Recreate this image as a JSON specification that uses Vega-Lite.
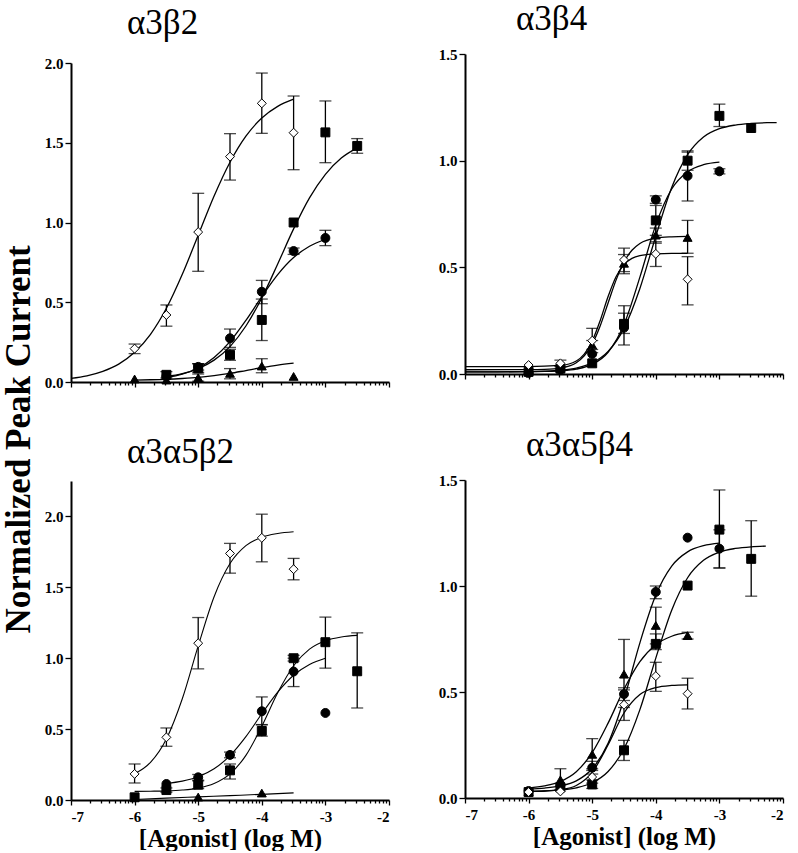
{
  "$schema": "https://vega.github.io/schema/vega-lite/v6.json",
  "padding": {"left": 2, "top": 2, "right": 2, "bottom": 0},
  "background": "white",
  "title": {"text": "Normalized Peak Current", "orient": "left", "anchor": "middle", "fontSize": 35, "fontWeight": "bold", "offset": -21, "dx": -13, "baseline": "alphabetic", "frame": "bounds"},
  "datasets": {
    "pts": [
      {"p": "a3b2", "s": "D", "x": -6, "y": 0.209, "lo": 0.178, "hi": 0.238},
      {"p": "a3b2", "s": "D", "x": -5.5, "y": 0.42, "lo": 0.35, "hi": 0.483},
      {"p": "a3b2", "s": "D", "x": -5, "y": 0.94, "lo": 0.694, "hi": 1.183},
      {"p": "a3b2", "s": "D", "x": -4.5, "y": 1.413, "lo": 1.266, "hi": 1.557},
      {"p": "a3b2", "s": "D", "x": -4, "y": 1.747, "lo": 1.559, "hi": 1.937},
      {"p": "a3b2", "s": "D", "x": -3.5, "y": 1.563, "lo": 1.331, "hi": 1.793},
      {"p": "a3b2", "s": "S", "x": -5.5, "y": 0.045, "lo": 0.025, "hi": 0.065},
      {"p": "a3b2", "s": "S", "x": -5, "y": 0.085, "lo": 0.06, "hi": 0.115},
      {"p": "a3b2", "s": "S", "x": -4.5, "y": 0.17, "lo": 0.136, "hi": 0.205},
      {"p": "a3b2", "s": "S", "x": -4, "y": 0.389, "lo": 0.26, "hi": 0.52},
      {"p": "a3b2", "s": "S", "x": -3.5, "y": 1.0, "lo": null, "hi": null},
      {"p": "a3b2", "s": "S", "x": -3, "y": 1.565, "lo": 1.375, "hi": 1.762},
      {"p": "a3b2", "s": "S", "x": -2.5, "y": 1.48, "lo": 1.434, "hi": 1.526},
      {"p": "a3b2", "s": "C", "x": -5.5, "y": 0.035, "lo": null, "hi": null},
      {"p": "a3b2", "s": "C", "x": -5, "y": 0.095, "lo": 0.075, "hi": 0.115},
      {"p": "a3b2", "s": "C", "x": -4.5, "y": 0.274, "lo": 0.217, "hi": 0.332},
      {"p": "a3b2", "s": "C", "x": -4, "y": 0.566, "lo": 0.491, "hi": 0.637},
      {"p": "a3b2", "s": "C", "x": -3.5, "y": 0.821, "lo": 0.8, "hi": 0.84},
      {"p": "a3b2", "s": "C", "x": -3, "y": 0.903, "lo": 0.855, "hi": 0.951},
      {"p": "a3b2", "s": "T", "x": -6, "y": 0.019, "lo": null, "hi": null},
      {"p": "a3b2", "s": "T", "x": -5.5, "y": 0.012, "lo": null, "hi": null},
      {"p": "a3b2", "s": "T", "x": -5, "y": 0.027, "lo": 0.005, "hi": 0.05},
      {"p": "a3b2", "s": "T", "x": -4.5, "y": 0.054, "lo": 0.02, "hi": 0.084},
      {"p": "a3b2", "s": "T", "x": -4, "y": 0.1, "lo": 0.058, "hi": 0.146},
      {"p": "a3b2", "s": "T", "x": -3.5, "y": 0.035, "lo": null, "hi": null},

      {"p": "a3b4", "s": "S", "x": -6, "y": 0.01, "lo": null, "hi": null},
      {"p": "a3b4", "s": "S", "x": -5.5, "y": 0.025, "lo": null, "hi": null},
      {"p": "a3b4", "s": "S", "x": -5, "y": 0.05, "lo": null, "hi": null},
      {"p": "a3b4", "s": "S", "x": -4.5, "y": 0.235, "lo": 0.136, "hi": 0.32},
      {"p": "a3b4", "s": "S", "x": -4, "y": 0.72, "lo": 0.65, "hi": 0.79},
      {"p": "a3b4", "s": "S", "x": -3.5, "y": 1.0, "lo": 0.955, "hi": 1.046},
      {"p": "a3b4", "s": "S", "x": -3, "y": 1.21, "lo": 1.16, "hi": 1.265},
      {"p": "a3b4", "s": "S", "x": -2.5, "y": 1.153, "lo": null, "hi": null},
      {"p": "a3b4", "s": "C", "x": -6, "y": 0.005, "lo": null, "hi": null},
      {"p": "a3b4", "s": "C", "x": -5.5, "y": 0.02, "lo": null, "hi": null},
      {"p": "a3b4", "s": "C", "x": -5, "y": 0.094, "lo": null, "hi": null},
      {"p": "a3b4", "s": "C", "x": -4.5, "y": 0.217, "lo": 0.19, "hi": 0.285},
      {"p": "a3b4", "s": "C", "x": -4, "y": 0.817, "lo": 0.8, "hi": 0.835},
      {"p": "a3b4", "s": "C", "x": -3.5, "y": 0.929, "lo": 0.811, "hi": 1.04},
      {"p": "a3b4", "s": "C", "x": -3, "y": 0.95, "lo": 0.938, "hi": 0.962},
      {"p": "a3b4", "s": "T", "x": -6, "y": 0.02, "lo": null, "hi": null},
      {"p": "a3b4", "s": "T", "x": -5.5, "y": 0.03, "lo": null, "hi": null},
      {"p": "a3b4", "s": "T", "x": -5, "y": 0.136, "lo": 0.115, "hi": 0.157},
      {"p": "a3b4", "s": "T", "x": -4.5, "y": 0.519, "lo": 0.47, "hi": 0.56},
      {"p": "a3b4", "s": "T", "x": -4, "y": 0.651, "lo": 0.613, "hi": 0.684},
      {"p": "a3b4", "s": "T", "x": -3.5, "y": 0.64, "lo": 0.566, "hi": 0.72},
      {"p": "a3b4", "s": "D", "x": -6, "y": 0.042, "lo": null, "hi": null},
      {"p": "a3b4", "s": "D", "x": -5.5, "y": 0.05, "lo": 0.035, "hi": 0.065},
      {"p": "a3b4", "s": "D", "x": -5, "y": 0.156, "lo": 0.1, "hi": 0.214},
      {"p": "a3b4", "s": "D", "x": -4.5, "y": 0.535, "lo": 0.48, "hi": 0.59},
      {"p": "a3b4", "s": "D", "x": -4, "y": 0.563, "lo": 0.504, "hi": 0.62},
      {"p": "a3b4", "s": "D", "x": -3.5, "y": 0.444, "lo": 0.324, "hi": 0.55},

      {"p": "a3a5b2", "s": "D", "x": -6, "y": 0.184, "lo": 0.12, "hi": 0.254},
      {"p": "a3a5b2", "s": "D", "x": -5.5, "y": 0.442, "lo": 0.379, "hi": 0.508},
      {"p": "a3a5b2", "s": "D", "x": -5, "y": 1.106, "lo": 0.925, "hi": 1.287},
      {"p": "a3a5b2", "s": "D", "x": -4.5, "y": 1.739, "lo": 1.6, "hi": 1.81},
      {"p": "a3a5b2", "s": "D", "x": -4, "y": 1.849, "lo": 1.68, "hi": 2.016},
      {"p": "a3a5b2", "s": "D", "x": -3.5, "y": 1.628, "lo": 1.553, "hi": 1.704},
      {"p": "a3a5b2", "s": "S", "x": -6, "y": 0.019, "lo": null, "hi": null},
      {"p": "a3a5b2", "s": "S", "x": -5.5, "y": 0.07, "lo": 0.055, "hi": 0.085},
      {"p": "a3a5b2", "s": "S", "x": -5, "y": 0.108, "lo": 0.08, "hi": 0.135},
      {"p": "a3a5b2", "s": "S", "x": -4.5, "y": 0.209, "lo": 0.148, "hi": 0.254},
      {"p": "a3a5b2", "s": "S", "x": -4, "y": 0.487, "lo": 0.45, "hi": 0.53},
      {"p": "a3a5b2", "s": "S", "x": -3.5, "y": 1.0, "lo": 0.98, "hi": 1.02},
      {"p": "a3a5b2", "s": "S", "x": -3, "y": 1.113, "lo": 0.93, "hi": 1.29},
      {"p": "a3a5b2", "s": "S", "x": -2.5, "y": 0.908, "lo": 0.649, "hi": 1.179},
      {"p": "a3a5b2", "s": "C", "x": -5.5, "y": 0.113, "lo": null, "hi": null},
      {"p": "a3a5b2", "s": "C", "x": -5, "y": 0.16, "lo": 0.14, "hi": 0.18},
      {"p": "a3a5b2", "s": "C", "x": -4.5, "y": 0.318, "lo": 0.298, "hi": 0.338},
      {"p": "a3a5b2", "s": "C", "x": -4, "y": 0.626, "lo": 0.532, "hi": 0.727},
      {"p": "a3a5b2", "s": "C", "x": -3.5, "y": 0.906, "lo": 0.8, "hi": 1.0},
      {"p": "a3a5b2", "s": "C", "x": -3, "y": 0.614, "lo": null, "hi": null},
      {"p": "a3a5b2", "s": "T", "x": -5, "y": 0.021, "lo": null, "hi": null},
      {"p": "a3a5b2", "s": "T", "x": -4, "y": 0.049, "lo": null, "hi": null},

      {"p": "a3a5b4", "s": "S", "x": -6, "y": 0.028, "lo": null, "hi": null},
      {"p": "a3a5b4", "s": "S", "x": -5.5, "y": 0.05, "lo": null, "hi": null},
      {"p": "a3a5b4", "s": "S", "x": -5, "y": 0.064, "lo": 0.045, "hi": 0.085},
      {"p": "a3a5b4", "s": "S", "x": -4.5, "y": 0.225, "lo": 0.177, "hi": 0.272},
      {"p": "a3a5b4", "s": "S", "x": -4, "y": 0.727, "lo": 0.7, "hi": 0.774},
      {"p": "a3a5b4", "s": "S", "x": -3.5, "y": 1.002, "lo": null, "hi": null},
      {"p": "a3a5b4", "s": "S", "x": -3, "y": 1.266, "lo": 1.085, "hi": 1.453},
      {"p": "a3a5b4", "s": "S", "x": -2.5, "y": 1.128, "lo": 0.952, "hi": 1.308},
      {"p": "a3a5b4", "s": "C", "x": -6, "y": 0.033, "lo": null, "hi": null},
      {"p": "a3a5b4", "s": "C", "x": -5.5, "y": 0.06, "lo": null, "hi": null},
      {"p": "a3a5b4", "s": "C", "x": -5, "y": 0.143, "lo": 0.113, "hi": 0.173},
      {"p": "a3a5b4", "s": "C", "x": -4.5, "y": 0.49, "lo": 0.46, "hi": 0.52},
      {"p": "a3a5b4", "s": "C", "x": -4, "y": 0.972, "lo": 0.94, "hi": 1.0},
      {"p": "a3a5b4", "s": "C", "x": -3.5, "y": 1.228, "lo": null, "hi": null},
      {"p": "a3a5b4", "s": "C", "x": -3, "y": 1.176, "lo": 1.085, "hi": 1.265},
      {"p": "a3a5b4", "s": "T", "x": -6, "y": 0.03, "lo": null, "hi": null},
      {"p": "a3a5b4", "s": "T", "x": -5.5, "y": 0.086, "lo": 0.04, "hi": 0.138},
      {"p": "a3a5b4", "s": "T", "x": -5, "y": 0.206, "lo": 0.138, "hi": 0.28},
      {"p": "a3a5b4", "s": "T", "x": -4.5, "y": 0.584, "lo": 0.427, "hi": 0.748},
      {"p": "a3a5b4", "s": "T", "x": -4, "y": 0.814, "lo": 0.727, "hi": 0.9},
      {"p": "a3a5b4", "s": "T", "x": -3.5, "y": 0.766, "lo": 0.75, "hi": 0.782},
      {"p": "a3a5b4", "s": "D", "x": -6, "y": 0.028, "lo": null, "hi": null},
      {"p": "a3a5b4", "s": "D", "x": -5.5, "y": 0.031, "lo": null, "hi": null},
      {"p": "a3a5b4", "s": "D", "x": -5, "y": 0.099, "lo": 0.07, "hi": 0.13},
      {"p": "a3a5b4", "s": "D", "x": -4.5, "y": 0.44, "lo": 0.366, "hi": 0.51},
      {"p": "a3a5b4", "s": "D", "x": -4, "y": 0.575, "lo": 0.503, "hi": 0.64},
      {"p": "a3a5b4", "s": "D", "x": -3.5, "y": 0.492, "lo": 0.42, "hi": 0.565}
    ],
    "fit": [
      {"p": "a3b2", "s": "D", "x": -7, "y": 0.023}, {"p": "a3b2", "s": "D", "x": -6.75, "y": 0.039}, {"p": "a3b2", "s": "D", "x": -6.5, "y": 0.067}, {"p": "a3b2", "s": "D", "x": -6.25, "y": 0.112}, {"p": "a3b2", "s": "D", "x": -6, "y": 0.186}, {"p": "a3b2", "s": "D", "x": -5.75, "y": 0.299}, {"p": "a3b2", "s": "D", "x": -5.5, "y": 0.462}, {"p": "a3b2", "s": "D", "x": -5.25, "y": 0.675}, {"p": "a3b2", "s": "D", "x": -5, "y": 0.92}, {"p": "a3b2", "s": "D", "x": -4.75, "y": 1.166}, {"p": "a3b2", "s": "D", "x": -4.5, "y": 1.378}, {"p": "a3b2", "s": "D", "x": -4.25, "y": 1.541}, {"p": "a3b2", "s": "D", "x": -4, "y": 1.655}, {"p": "a3b2", "s": "D", "x": -3.75, "y": 1.728}, {"p": "a3b2", "s": "D", "x": -3.5, "y": 1.773},
      {"p": "a3b2", "s": "S", "x": -5.5, "y": 0.034}, {"p": "a3b2", "s": "S", "x": -5.25, "y": 0.052}, {"p": "a3b2", "s": "S", "x": -5, "y": 0.084}, {"p": "a3b2", "s": "S", "x": -4.75, "y": 0.137}, {"p": "a3b2", "s": "S", "x": -4.5, "y": 0.222}, {"p": "a3b2", "s": "S", "x": -4.25, "y": 0.351}, {"p": "a3b2", "s": "S", "x": -4, "y": 0.527}, {"p": "a3b2", "s": "S", "x": -3.75, "y": 0.74}, {"p": "a3b2", "s": "S", "x": -3.5, "y": 0.96}, {"p": "a3b2", "s": "S", "x": -3.25, "y": 1.154}, {"p": "a3b2", "s": "S", "x": -3, "y": 1.302}, {"p": "a3b2", "s": "S", "x": -2.75, "y": 1.404}, {"p": "a3b2", "s": "S", "x": -2.5, "y": 1.468},
      {"p": "a3b2", "s": "C", "x": -5.5, "y": 0.027}, {"p": "a3b2", "s": "C", "x": -5.25, "y": 0.049}, {"p": "a3b2", "s": "C", "x": -5, "y": 0.088}, {"p": "a3b2", "s": "C", "x": -4.75, "y": 0.154}, {"p": "a3b2", "s": "C", "x": -4.5, "y": 0.253}, {"p": "a3b2", "s": "C", "x": -4.25, "y": 0.386}, {"p": "a3b2", "s": "C", "x": -4, "y": 0.535}, {"p": "a3b2", "s": "C", "x": -3.75, "y": 0.673}, {"p": "a3b2", "s": "C", "x": -3.5, "y": 0.78}, {"p": "a3b2", "s": "C", "x": -3.25, "y": 0.851}, {"p": "a3b2", "s": "C", "x": -3, "y": 0.895},
      {"p": "a3b2", "s": "T", "x": -6, "y": 0.012}, {"p": "a3b2", "s": "T", "x": -5.75, "y": 0.014}, {"p": "a3b2", "s": "T", "x": -5.5, "y": 0.017}, {"p": "a3b2", "s": "T", "x": -5.25, "y": 0.022}, {"p": "a3b2", "s": "T", "x": -5, "y": 0.029}, {"p": "a3b2", "s": "T", "x": -4.75, "y": 0.04}, {"p": "a3b2", "s": "T", "x": -4.5, "y": 0.054}, {"p": "a3b2", "s": "T", "x": -4.25, "y": 0.072}, {"p": "a3b2", "s": "T", "x": -4, "y": 0.09}, {"p": "a3b2", "s": "T", "x": -3.75, "y": 0.106}, {"p": "a3b2", "s": "T", "x": -3.5, "y": 0.118},

      {"p": "a3b4", "s": "D", "x": -7, "y": 0.035}, {"p": "a3b4", "s": "D", "x": -6, "y": 0.035}, {"p": "a3b4", "s": "D", "x": -5.5, "y": 0.04}, {"p": "a3b4", "s": "D", "x": -5.25, "y": 0.061}, {"p": "a3b4", "s": "D", "x": -5.125, "y": 0.093}, {"p": "a3b4", "s": "D", "x": -5, "y": 0.154}, {"p": "a3b4", "s": "D", "x": -4.875, "y": 0.25}, {"p": "a3b4", "s": "D", "x": -4.75, "y": 0.363}, {"p": "a3b4", "s": "D", "x": -4.625, "y": 0.456}, {"p": "a3b4", "s": "D", "x": -4.5, "y": 0.513}, {"p": "a3b4", "s": "D", "x": -4.375, "y": 0.542}, {"p": "a3b4", "s": "D", "x": -4.25, "y": 0.555}, {"p": "a3b4", "s": "D", "x": -4, "y": 0.563}, {"p": "a3b4", "s": "D", "x": -3.75, "y": 0.565}, {"p": "a3b4", "s": "D", "x": -3.5, "y": 0.565},
      {"p": "a3b4", "s": "T", "x": -7, "y": 0.02}, {"p": "a3b4", "s": "T", "x": -6, "y": 0.0205}, {"p": "a3b4", "s": "T", "x": -5.75, "y": 0.022}, {"p": "a3b4", "s": "T", "x": -5.5, "y": 0.028}, {"p": "a3b4", "s": "T", "x": -5.25, "y": 0.053}, {"p": "a3b4", "s": "T", "x": -5.125, "y": 0.085}, {"p": "a3b4", "s": "T", "x": -5, "y": 0.14}, {"p": "a3b4", "s": "T", "x": -4.875, "y": 0.225}, {"p": "a3b4", "s": "T", "x": -4.75, "y": 0.333}, {"p": "a3b4", "s": "T", "x": -4.625, "y": 0.44}, {"p": "a3b4", "s": "T", "x": -4.5, "y": 0.525}, {"p": "a3b4", "s": "T", "x": -4.375, "y": 0.58}, {"p": "a3b4", "s": "T", "x": -4.25, "y": 0.612}, {"p": "a3b4", "s": "T", "x": -4, "y": 0.637}, {"p": "a3b4", "s": "T", "x": -3.75, "y": 0.643}, {"p": "a3b4", "s": "T", "x": -3.5, "y": 0.645},
      {"p": "a3b4", "s": "C", "x": -7, "y": 0.01}, {"p": "a3b4", "s": "C", "x": -6.5, "y": 0.01}, {"p": "a3b4", "s": "C", "x": -6, "y": 0.011}, {"p": "a3b4", "s": "C", "x": -5.75, "y": 0.012}, {"p": "a3b4", "s": "C", "x": -5.5, "y": 0.015}, {"p": "a3b4", "s": "C", "x": -5.25, "y": 0.023}, {"p": "a3b4", "s": "C", "x": -5, "y": 0.045}, {"p": "a3b4", "s": "C", "x": -4.75, "y": 0.102}, {"p": "a3b4", "s": "C", "x": -4.5, "y": 0.232}, {"p": "a3b4", "s": "C", "x": -4.25, "y": 0.454}, {"p": "a3b4", "s": "C", "x": -4, "y": 0.699}, {"p": "a3b4", "s": "C", "x": -3.75, "y": 0.867}, {"p": "a3b4", "s": "C", "x": -3.5, "y": 0.948}, {"p": "a3b4", "s": "C", "x": -3.25, "y": 0.981}, {"p": "a3b4", "s": "C", "x": -3, "y": 0.993},
      {"p": "a3b4", "s": "S", "x": -7, "y": 0.01}, {"p": "a3b4", "s": "S", "x": -6.5, "y": 0.0102}, {"p": "a3b4", "s": "S", "x": -6, "y": 0.0114}, {"p": "a3b4", "s": "S", "x": -5.75, "y": 0.0133}, {"p": "a3b4", "s": "S", "x": -5.5, "y": 0.0178}, {"p": "a3b4", "s": "S", "x": -5.25, "y": 0.028}, {"p": "a3b4", "s": "S", "x": -5, "y": 0.052}, {"p": "a3b4", "s": "S", "x": -4.75, "y": 0.106}, {"p": "a3b4", "s": "S", "x": -4.5, "y": 0.214}, {"p": "a3b4", "s": "S", "x": -4.25, "y": 0.401}, {"p": "a3b4", "s": "S", "x": -4, "y": 0.646}, {"p": "a3b4", "s": "S", "x": -3.75, "y": 0.874}, {"p": "a3b4", "s": "S", "x": -3.5, "y": 1.028}, {"p": "a3b4", "s": "S", "x": -3.25, "y": 1.111}, {"p": "a3b4", "s": "S", "x": -3, "y": 1.15}, {"p": "a3b4", "s": "S", "x": -2.75, "y": 1.167}, {"p": "a3b4", "s": "S", "x": -2.5, "y": 1.1745}, {"p": "a3b4", "s": "S", "x": -2.25, "y": 1.178}, {"p": "a3b4", "s": "S", "x": -2.1, "y": 1.1785},

      {"p": "a3a5b2", "s": "D", "x": -6, "y": 0.185}, {"p": "a3a5b2", "s": "D", "x": -5.75, "y": 0.266}, {"p": "a3a5b2", "s": "D", "x": -5.5, "y": 0.431}, {"p": "a3a5b2", "s": "D", "x": -5.25, "y": 0.714}, {"p": "a3a5b2", "s": "D", "x": -5, "y": 1.087}, {"p": "a3a5b2", "s": "D", "x": -4.75, "y": 1.434}, {"p": "a3a5b2", "s": "D", "x": -4.5, "y": 1.668}, {"p": "a3a5b2", "s": "D", "x": -4.25, "y": 1.794}, {"p": "a3a5b2", "s": "D", "x": -4, "y": 1.854}, {"p": "a3a5b2", "s": "D", "x": -3.75, "y": 1.88}, {"p": "a3a5b2", "s": "D", "x": -3.5, "y": 1.892},
      {"p": "a3a5b2", "s": "S", "x": -6, "y": 0.061}, {"p": "a3a5b2", "s": "S", "x": -5.75, "y": 0.062}, {"p": "a3a5b2", "s": "S", "x": -5.5, "y": 0.064}, {"p": "a3a5b2", "s": "S", "x": -5.25, "y": 0.07}, {"p": "a3a5b2", "s": "S", "x": -5, "y": 0.084}, {"p": "a3a5b2", "s": "S", "x": -4.75, "y": 0.116}, {"p": "a3a5b2", "s": "S", "x": -4.5, "y": 0.184}, {"p": "a3a5b2", "s": "S", "x": -4.25, "y": 0.315}, {"p": "a3a5b2", "s": "S", "x": -4, "y": 0.52}, {"p": "a3a5b2", "s": "S", "x": -3.75, "y": 0.756}, {"p": "a3a5b2", "s": "S", "x": -3.5, "y": 0.947}, {"p": "a3a5b2", "s": "S", "x": -3.25, "y": 1.064}, {"p": "a3a5b2", "s": "S", "x": -3, "y": 1.123}, {"p": "a3a5b2", "s": "S", "x": -2.75, "y": 1.15}, {"p": "a3a5b2", "s": "S", "x": -2.5, "y": 1.161},
      {"p": "a3a5b2", "s": "C", "x": -5.5, "y": 0.117}, {"p": "a3a5b2", "s": "C", "x": -5.25, "y": 0.133}, {"p": "a3a5b2", "s": "C", "x": -5, "y": 0.164}, {"p": "a3a5b2", "s": "C", "x": -4.75, "y": 0.22}, {"p": "a3a5b2", "s": "C", "x": -4.5, "y": 0.313}, {"p": "a3a5b2", "s": "C", "x": -4.25, "y": 0.447}, {"p": "a3a5b2", "s": "C", "x": -4, "y": 0.608}, {"p": "a3a5b2", "s": "C", "x": -3.75, "y": 0.761}, {"p": "a3a5b2", "s": "C", "x": -3.5, "y": 0.88}, {"p": "a3a5b2", "s": "C", "x": -3.25, "y": 0.956}, {"p": "a3a5b2", "s": "C", "x": -3, "y": 1.0},
      {"p": "a3a5b2", "s": "T", "x": -6, "y": 0.003}, {"p": "a3a5b2", "s": "T", "x": -5.5, "y": 0.013}, {"p": "a3a5b2", "s": "T", "x": -5, "y": 0.022}, {"p": "a3a5b2", "s": "T", "x": -4.5, "y": 0.031}, {"p": "a3a5b2", "s": "T", "x": -4, "y": 0.04}, {"p": "a3a5b2", "s": "T", "x": -3.5, "y": 0.05},

      {"p": "a3a5b4", "s": "C", "x": -6, "y": 0.043}, {"p": "a3a5b4", "s": "C", "x": -5.75, "y": 0.047}, {"p": "a3a5b4", "s": "C", "x": -5.5, "y": 0.057}, {"p": "a3a5b4", "s": "C", "x": -5.25, "y": 0.081}, {"p": "a3a5b4", "s": "C", "x": -5, "y": 0.138}, {"p": "a3a5b4", "s": "C", "x": -4.75, "y": 0.258}, {"p": "a3a5b4", "s": "C", "x": -4.5, "y": 0.467}, {"p": "a3a5b4", "s": "C", "x": -4.25, "y": 0.732}, {"p": "a3a5b4", "s": "C", "x": -4, "y": 0.957}, {"p": "a3a5b4", "s": "C", "x": -3.75, "y": 1.094}, {"p": "a3a5b4", "s": "C", "x": -3.5, "y": 1.161}, {"p": "a3a5b4", "s": "C", "x": -3.25, "y": 1.19}, {"p": "a3a5b4", "s": "C", "x": -3, "y": 1.202},
      {"p": "a3a5b4", "s": "T", "x": -6, "y": 0.047}, {"p": "a3a5b4", "s": "T", "x": -5.75, "y": 0.057}, {"p": "a3a5b4", "s": "T", "x": -5.5, "y": 0.078}, {"p": "a3a5b4", "s": "T", "x": -5.25, "y": 0.124}, {"p": "a3a5b4", "s": "T", "x": -5, "y": 0.214}, {"p": "a3a5b4", "s": "T", "x": -4.75, "y": 0.353}, {"p": "a3a5b4", "s": "T", "x": -4.5, "y": 0.513}, {"p": "a3a5b4", "s": "T", "x": -4.25, "y": 0.643}, {"p": "a3a5b4", "s": "T", "x": -4, "y": 0.723}, {"p": "a3a5b4", "s": "T", "x": -3.75, "y": 0.763}, {"p": "a3a5b4", "s": "T", "x": -3.5, "y": 0.781},
      {"p": "a3a5b4", "s": "D", "x": -6, "y": 0.031}, {"p": "a3a5b4", "s": "D", "x": -5.75, "y": 0.033}, {"p": "a3a5b4", "s": "D", "x": -5.5, "y": 0.039}, {"p": "a3a5b4", "s": "D", "x": -5.25, "y": 0.059}, {"p": "a3a5b4", "s": "D", "x": -5, "y": 0.121}, {"p": "a3a5b4", "s": "D", "x": -4.75, "y": 0.251}, {"p": "a3a5b4", "s": "D", "x": -4.5, "y": 0.401}, {"p": "a3a5b4", "s": "D", "x": -4.25, "y": 0.488}, {"p": "a3a5b4", "s": "D", "x": -4, "y": 0.521}, {"p": "a3a5b4", "s": "D", "x": -3.75, "y": 0.531}, {"p": "a3a5b4", "s": "D", "x": -3.5, "y": 0.534},
      {"p": "a3a5b4", "s": "S", "x": -6, "y": 0.031}, {"p": "a3a5b4", "s": "S", "x": -5.75, "y": 0.033}, {"p": "a3a5b4", "s": "S", "x": -5.5, "y": 0.038}, {"p": "a3a5b4", "s": "S", "x": -5.25, "y": 0.048}, {"p": "a3a5b4", "s": "S", "x": -5, "y": 0.072}, {"p": "a3a5b4", "s": "S", "x": -4.75, "y": 0.125}, {"p": "a3a5b4", "s": "S", "x": -4.5, "y": 0.232}, {"p": "a3a5b4", "s": "S", "x": -4.25, "y": 0.417}, {"p": "a3a5b4", "s": "S", "x": -4, "y": 0.66}, {"p": "a3a5b4", "s": "S", "x": -3.75, "y": 0.886}, {"p": "a3a5b4", "s": "S", "x": -3.5, "y": 1.039}, {"p": "a3a5b4", "s": "S", "x": -3.25, "y": 1.121}, {"p": "a3a5b4", "s": "S", "x": -3, "y": 1.16}, {"p": "a3a5b4", "s": "S", "x": -2.75, "y": 1.177}, {"p": "a3a5b4", "s": "S", "x": -2.5, "y": 1.185}, {"p": "a3a5b4", "s": "S", "x": -2.27, "y": 1.188}
    ]
  },
  "spacing": 48,
  "hconcat": [
    {
      "spacing": 45,
      "vconcat": [
        {
          "width": 318, "height": 328,
          "title": {"text": "α3β2", "offset": 13, "dx": 56},
          "resolve": {"axis": {"x": "independent"}},
          "layer": [
            {"data": {"name": "fit"}, "transform": [{"filter": "datum.p == 'a3b2'"}],
             "mark": {"type": "line", "interpolate": "monotone", "color": "black", "strokeWidth": 1.3},
             "encoding": {
               "x": {"field": "x", "type": "quantitative", "scale": {"domain": [-7, -2], "nice": false, "zero": false}, "axis": {"values": [-7, -6, -5, -4, -3, -2], "labels": false, "tickSize": 5, "title": null, "orient": "bottom"}},
               "y": {"field": "y", "type": "quantitative", "scale": {"domain": [0, 2], "nice": false, "range": [328, 9]}, "axis": {"values": [0, 0.5, 1, 1.5, 2], "format": ".1f", "tickSize": 6, "title": null}},
               "detail": {"field": "s"}}},
            {"data": {"name": "pts"}, "transform": [{"filter": "datum.p == 'a3b2' && isValid(datum.lo)"}],
             "mark": {"type": "errorbar", "ticks": {"size": 12, "color": "black", "thickness": 1.3}, "rule": {"color": "black", "strokeWidth": 1.3}},
             "encoding": {
               "x": {"field": "x", "type": "quantitative", "axis": null},
               "y": {"field": "lo", "type": "quantitative", "axis": {"values": [0, 0.5, 1, 1.5, 2], "format": ".1f", "tickSize": 6, "title": null}},
               "y2": {"field": "hi"}}},
            {"data": {"name": "pts"}, "transform": [{"filter": "datum.p == 'a3b2'"}],
             "mark": {"type": "point", "filled": true, "size": 80, "stroke": "black", "strokeWidth": 1, "opacity": 1},
             "encoding": {
               "x": {"field": "x", "type": "quantitative", "axis": {"values": [-6.699, -6.5229, -6.3979, -6.301, -6.2218, -6.1549, -6.0969, -6.0458, -5.699, -5.5229, -5.3979, -5.301, -5.2218, -5.1549, -5.0969, -5.0458, -4.699, -4.5229, -4.3979, -4.301, -4.2218, -4.1549, -4.0969, -4.0458, -3.699, -3.5229, -3.3979, -3.301, -3.2218, -3.1549, -3.0969, -3.0458, -2.699, -2.5229, -2.3979, -2.301, -2.2218, -2.1549, -2.0969, -2.0458], "labels": false, "domain": false, "tickSize": 3, "title": null, "orient": "bottom"}},
               "y": {"field": "y", "type": "quantitative", "axis": {"values": [0, 0.5, 1, 1.5, 2], "format": ".1f", "tickSize": 6, "title": null}},
               "shape": {"field": "s", "scale": {"domain": ["D", "S", "C", "T"], "range": ["diamond", "square", "circle", "triangle-up"]}, "legend": null},
               "fill": {"field": "s", "scale": {"domain": ["D", "S", "C", "T"], "range": ["white", "black", "black", "black"]}, "legend": null}}}
          ]
        },
        {
          "width": 318, "height": 319,
          "title": {"text": "α3α5β2", "offset": 11, "dx": 56},
          "resolve": {"axis": {"x": "independent"}},
          "layer": [
            {"data": {"name": "fit"}, "transform": [{"filter": "datum.p == 'a3a5b2'"}],
             "mark": {"type": "line", "interpolate": "monotone", "color": "black", "strokeWidth": 1.1},
             "encoding": {
               "x": {"field": "x", "type": "quantitative", "scale": {"domain": [-7, -2], "nice": false, "zero": false}, "axis": {"values": [-7, -6, -5, -4, -3, -2], "labelExpr": "'' + datum.value", "tickSize": 5, "labelPadding": 4, "title": "[Agonist] (log M)", "titlePadding": 2, "orient": "bottom"}},
               "y": {"field": "y", "type": "quantitative", "scale": {"domain": [0, 2.25], "nice": false}, "axis": {"values": [0, 0.5, 1, 1.5, 2], "format": ".1f", "tickSize": 6, "title": null}},
               "detail": {"field": "s"}}},
            {"data": {"name": "pts"}, "transform": [{"filter": "datum.p == 'a3a5b2' && isValid(datum.lo)"}],
             "mark": {"type": "errorbar", "ticks": {"size": 12, "color": "black", "thickness": 1.3}, "rule": {"color": "black", "strokeWidth": 1.3}},
             "encoding": {
               "x": {"field": "x", "type": "quantitative", "axis": null},
               "y": {"field": "lo", "type": "quantitative", "axis": {"values": [0, 0.5, 1, 1.5, 2], "format": ".1f", "tickSize": 6, "title": null}},
               "y2": {"field": "hi"}}},
            {"data": {"name": "pts"}, "transform": [{"filter": "datum.p == 'a3a5b2'"}],
             "mark": {"type": "point", "filled": true, "size": 80, "stroke": "black", "strokeWidth": 1, "opacity": 1},
             "encoding": {
               "x": {"field": "x", "type": "quantitative", "axis": {"values": [-6.699, -6.5229, -6.3979, -6.301, -6.2218, -6.1549, -6.0969, -6.0458, -5.699, -5.5229, -5.3979, -5.301, -5.2218, -5.1549, -5.0969, -5.0458, -4.699, -4.5229, -4.3979, -4.301, -4.2218, -4.1549, -4.0969, -4.0458, -3.699, -3.5229, -3.3979, -3.301, -3.2218, -3.1549, -3.0969, -3.0458, -2.699, -2.5229, -2.3979, -2.301, -2.2218, -2.1549, -2.0969, -2.0458], "labels": false, "domain": false, "tickSize": 3, "title": null, "orient": "bottom"}},
               "y": {"field": "y", "type": "quantitative", "axis": {"values": [0, 0.5, 1, 1.5, 2], "format": ".1f", "tickSize": 6, "title": null}},
               "shape": {"field": "s", "scale": {"domain": ["D", "S", "C", "T"], "range": ["diamond", "square", "circle", "triangle-up"]}, "legend": null},
               "fill": {"field": "s", "scale": {"domain": ["D", "S", "C", "T"], "range": ["white", "black", "black", "black"]}, "legend": null}}}
          ]
        }
      ]
    },
    {
      "spacing": 46,
      "vconcat": [
        {
          "width": 318, "height": 320,
          "title": {"text": "α3β4", "offset": 10, "dx": 51},
          "resolve": {"axis": {"x": "independent"}},
          "layer": [
            {"data": {"name": "fit"}, "transform": [{"filter": "datum.p == 'a3b4'"}],
             "mark": {"type": "line", "interpolate": "monotone", "color": "black", "strokeWidth": 1.3},
             "encoding": {
               "x": {"field": "x", "type": "quantitative", "scale": {"domain": [-7, -2], "nice": false, "zero": false}, "axis": {"values": [-7, -6, -5, -4, -3, -2], "labels": false, "tickSize": 5, "title": null, "orient": "bottom"}},
               "y": {"field": "y", "type": "quantitative", "scale": {"domain": [0, 1.5], "nice": false}, "axis": {"values": [0, 0.5, 1, 1.5], "format": ".1f", "tickSize": 6, "title": null}},
               "detail": {"field": "s"}}},
            {"data": {"name": "pts"}, "transform": [{"filter": "datum.p == 'a3b4' && isValid(datum.lo)"}],
             "mark": {"type": "errorbar", "ticks": {"size": 12, "color": "black", "thickness": 1.3}, "rule": {"color": "black", "strokeWidth": 1.3}},
             "encoding": {
               "x": {"field": "x", "type": "quantitative", "axis": null},
               "y": {"field": "lo", "type": "quantitative", "axis": {"values": [0, 0.5, 1, 1.5], "format": ".1f", "tickSize": 6, "title": null}},
               "y2": {"field": "hi"}}},
            {"data": {"name": "pts"}, "transform": [{"filter": "datum.p == 'a3b4'"}],
             "mark": {"type": "point", "filled": true, "size": 80, "stroke": "black", "strokeWidth": 1, "opacity": 1},
             "encoding": {
               "x": {"field": "x", "type": "quantitative", "axis": {"values": [-6.699, -6.5229, -6.3979, -6.301, -6.2218, -6.1549, -6.0969, -6.0458, -5.699, -5.5229, -5.3979, -5.301, -5.2218, -5.1549, -5.0969, -5.0458, -4.699, -4.5229, -4.3979, -4.301, -4.2218, -4.1549, -4.0969, -4.0458, -3.699, -3.5229, -3.3979, -3.301, -3.2218, -3.1549, -3.0969, -3.0458, -2.699, -2.5229, -2.3979, -2.301, -2.2218, -2.1549, -2.0969, -2.0458], "labels": false, "domain": false, "tickSize": 3, "title": null, "orient": "bottom"}},
               "y": {"field": "y", "type": "quantitative", "axis": {"values": [0, 0.5, 1, 1.5], "format": ".1f", "tickSize": 6, "title": null}},
               "shape": {"field": "s", "scale": {"domain": ["D", "S", "C", "T"], "range": ["diamond", "square", "circle", "triangle-up"]}, "legend": null},
               "fill": {"field": "s", "scale": {"domain": ["D", "S", "C", "T"], "range": ["white", "black", "black", "black"]}, "legend": null}}}
          ]
        },
        {
          "width": 318, "height": 318,
          "title": {"text": "α3α5β4", "offset": 10, "dx": 61},
          "resolve": {"axis": {"x": "independent"}},
          "layer": [
            {"data": {"name": "fit"}, "transform": [{"filter": "datum.p == 'a3a5b4'"}],
             "mark": {"type": "line", "interpolate": "monotone", "color": "black", "strokeWidth": 1.3},
             "encoding": {
               "x": {"field": "x", "type": "quantitative", "scale": {"domain": [-7, -2], "nice": false, "zero": false}, "axis": {"values": [-7, -6, -5, -4, -3, -2], "labelExpr": "'' + datum.value", "tickSize": 5, "labelPadding": 4, "title": "[Agonist] (log M)", "titlePadding": 2, "orient": "bottom"}},
               "y": {"field": "y", "type": "quantitative", "scale": {"domain": [0, 1.5], "nice": false}, "axis": {"values": [0, 0.5, 1, 1.5], "format": ".1f", "tickSize": 6, "title": null}},
               "detail": {"field": "s"}}},
            {"data": {"name": "pts"}, "transform": [{"filter": "datum.p == 'a3a5b4' && isValid(datum.lo)"}],
             "mark": {"type": "errorbar", "ticks": {"size": 12, "color": "black", "thickness": 1.3}, "rule": {"color": "black", "strokeWidth": 1.3}},
             "encoding": {
               "x": {"field": "x", "type": "quantitative", "axis": null},
               "y": {"field": "lo", "type": "quantitative", "axis": {"values": [0, 0.5, 1, 1.5], "format": ".1f", "tickSize": 6, "title": null}},
               "y2": {"field": "hi"}}},
            {"data": {"name": "pts"}, "transform": [{"filter": "datum.p == 'a3a5b4'"}],
             "mark": {"type": "point", "filled": true, "size": 80, "stroke": "black", "strokeWidth": 1, "opacity": 1},
             "encoding": {
               "x": {"field": "x", "type": "quantitative", "axis": {"values": [-6.699, -6.5229, -6.3979, -6.301, -6.2218, -6.1549, -6.0969, -6.0458, -5.699, -5.5229, -5.3979, -5.301, -5.2218, -5.1549, -5.0969, -5.0458, -4.699, -4.5229, -4.3979, -4.301, -4.2218, -4.1549, -4.0969, -4.0458, -3.699, -3.5229, -3.3979, -3.301, -3.2218, -3.1549, -3.0969, -3.0458, -2.699, -2.5229, -2.3979, -2.301, -2.2218, -2.1549, -2.0969, -2.0458], "labels": false, "domain": false, "tickSize": 3, "title": null, "orient": "bottom"}},
               "y": {"field": "y", "type": "quantitative", "axis": {"values": [0, 0.5, 1, 1.5], "format": ".1f", "tickSize": 6, "title": null}},
               "shape": {"field": "s", "scale": {"domain": ["D", "S", "C", "T"], "range": ["diamond", "square", "circle", "triangle-up"]}, "legend": null},
               "fill": {"field": "s", "scale": {"domain": ["D", "S", "C", "T"], "range": ["white", "black", "black", "black"]}, "legend": null}}}
          ]
        }
      ]
    }
  ],
  "config": {
    "view": {"stroke": null},
    "font": "Liberation Serif",
    "axis": {"grid": false, "domainColor": "black", "domainWidth": 2, "tickColor": "black", "tickWidth": 1.3, "labelColor": "black", "labelFont": "Liberation Serif", "labelFontWeight": "bold", "labelFontSize": 15, "labelPadding": 2, "titleFont": "Liberation Serif", "titleFontWeight": "bold", "titleFontSize": 25, "titleColor": "black"},
    "title": {"font": "Liberation Serif", "fontSize": 35, "fontWeight": "normal", "color": "black", "anchor": "start", "baseline": "alphabetic", "frame": "group"}
  }
}
